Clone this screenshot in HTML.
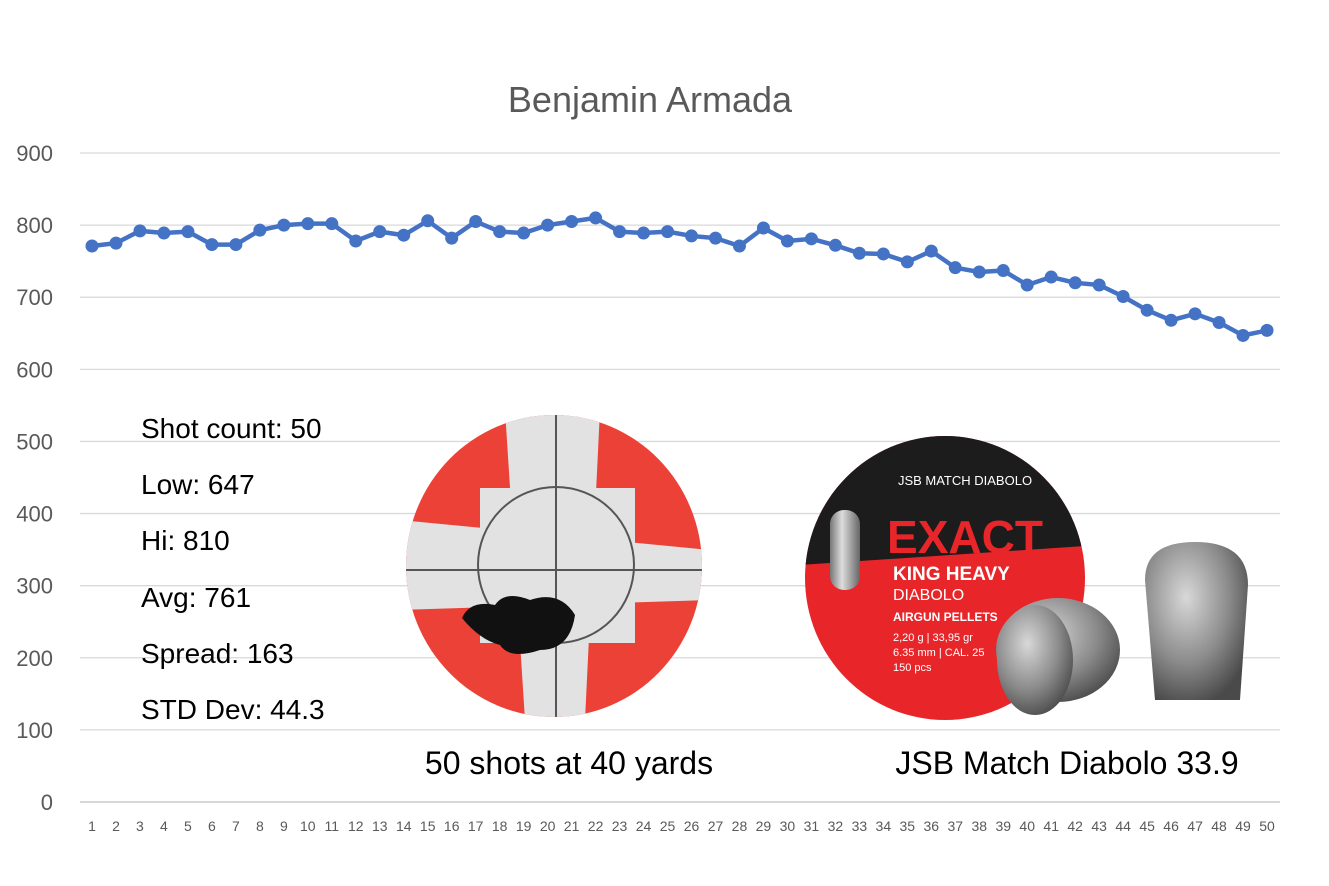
<!DOCTYPE html>
<html><head><meta charset="utf-8"><style>
body{margin:0;background:#fff;}
svg{display:block;font-family:"Liberation Sans",sans-serif;}
</style></head><body>
<svg id="s" width="1329" height="886" viewBox="0 0 1329 886" xmlns="http://www.w3.org/2000/svg">
<defs>
<radialGradient id="pg" cx="0.4" cy="0.35" r="0.7"><stop offset="0" stop-color="#d8d8d8"/><stop offset="0.6" stop-color="#8a8a8a"/><stop offset="1" stop-color="#4a4a4a"/></radialGradient>
<linearGradient id="sg" x1="0" x2="1"><stop offset="0" stop-color="#777"/><stop offset="0.4" stop-color="#ddd"/><stop offset="1" stop-color="#666"/></linearGradient>
<clipPath id="tc"><ellipse cx="554" cy="566" rx="148" ry="151"/></clipPath>
<clipPath id="jc"><ellipse cx="945" cy="578" rx="140" ry="142"/></clipPath>
</defs>
<text x="650" y="112" font-size="36" fill="#595959" text-anchor="middle">Benjamin Armada</text>
<g id="grid" stroke="#d9d9d9" stroke-width="1.3"></g>
<g id="ylab" font-size="22" fill="#595959" text-anchor="end"></g>
<g id="xlab" font-size="14" fill="#595959" text-anchor="middle"></g>
<g font-size="28" fill="#000">
<text x="141" y="438">Shot count: 50</text>
<text x="141" y="494">Low: 647</text>
<text x="141" y="550">Hi: 810</text>
<text x="141" y="607">Avg: 761</text>
<text x="141" y="663">Spread: 163</text>
<text x="141" y="719">STD Dev: 44.3</text>
</g>
<!-- target -->
<g clip-path="url(#tc)">
<rect x="400" y="410" width="310" height="310" fill="#ec4136"/>
<polygon points="505,410 600,410 585,720 525,720" fill="#e2e2e2"/>
<polygon points="400,520 710,550 710,600 400,610" fill="#e2e2e2"/>
<rect x="480" y="488" width="155" height="155" fill="#e2e2e2"/>
<circle cx="556" cy="565" r="78" fill="none" stroke="#555" stroke-width="2"/>
<line x1="556" y1="410" x2="556" y2="720" stroke="#555" stroke-width="2"/>
<line x1="400" y1="570" x2="710" y2="570" stroke="#555" stroke-width="2"/>
<path d="M462,618 Q470,600 495,605 Q505,590 530,600 Q560,590 575,615 Q570,650 540,650 Q510,660 500,645 Q480,640 462,618Z" fill="#111"/>
</g>
<!-- tin -->
<g clip-path="url(#jc)">
<rect x="800" y="430" width="300" height="300" fill="#e8262a"/>
<polygon points="800,430 1100,430 1100,545 800,565" fill="#1c1c1c"/>
</g>
<text x="965" y="485" font-size="13" fill="#fff" text-anchor="middle">JSB MATCH DIABOLO</text>
<text x="965" y="553" font-size="46" font-weight="bold" fill="#e8262a" text-anchor="middle">EXACT</text>
<text x="893" y="580" font-size="19" font-weight="bold" fill="#fff">KING HEAVY</text>
<text x="893" y="600" font-size="16" fill="#fff">DIABOLO</text>
<text x="893" y="621" font-size="12" font-weight="bold" fill="#fff">AIRGUN PELLETS</text>
<text x="893" y="641" font-size="11" fill="#fff">2,20 g | 33,95 gr</text>
<text x="893" y="656" font-size="11" fill="#fff">6.35 mm | CAL. 25</text>
<text x="893" y="671" font-size="11" fill="#fff">150 pcs</text>
<rect x="830" y="510" width="30" height="80" rx="14" fill="url(#sg)"/>
<ellipse cx="1058" cy="650" rx="62" ry="52" fill="url(#pg)"/>
<ellipse cx="1035" cy="660" rx="38" ry="55" fill="url(#pg)"/>
<path d="M1145,580 Q1145,542 1195,542 Q1248,542 1248,585 L1240,700 L1155,700Z" fill="url(#pg)"/>
<g font-size="32" fill="#000" text-anchor="middle">
<text x="569" y="774">50 shots at 40 yards</text>
<text x="1067" y="774">JSB Match Diabolo 33.9</text>
</g>
<polyline id="ln" fill="none" stroke="#4472c4" stroke-width="4.5" stroke-linejoin="round"/>
<g id="pts" fill="#4472c4"></g>
</svg>
<script>
var d=[771,775,792,789,791,773,773,793,800,802,802,778,791,786,806,782,805,791,789,800,805,810,791,789,791,785,782,771,796,778,781,772,761,760,749,764,741,735,737,717,728,720,717,701,682,668,677,665,647,654];
var ns="http://www.w3.org/2000/svg";
function el(t,a,p,tx){var e=document.createElementNS(ns,t);for(var k in a)e.setAttribute(k,a[k]);if(tx!==undefined)e.textContent=tx;document.getElementById(p).appendChild(e);}
function Y(v){return 802-v*0.7211;}
for(var i=0;i<=9;i++){var y=Y(i*100);el('line',{x1:80,x2:1280,y1:y,y2:y,stroke:i==0?'#bfbfbf':'#d9d9d9'},'grid');el('text',{x:53,y:y+8},'ylab',String(i*100));}
var pts=[];
for(var i=0;i<50;i++){var x=92+i*23.98,y=Y(d[i]);pts.push(x+','+y);el('circle',{cx:x,cy:y,r:6.5},'pts');el('text',{x:x,y:831},'xlab',String(i+1));}
document.getElementById('ln').setAttribute('points',pts.join(' '));
</script>
</body></html>
